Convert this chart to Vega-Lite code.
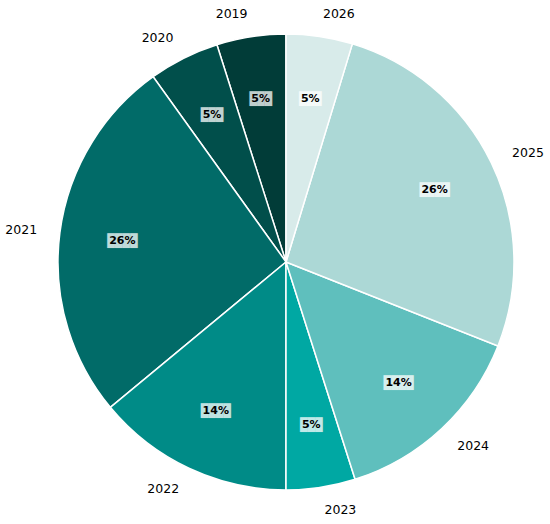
{
  "$schema": "https://vega.github.io/schema/vega-lite/v6.json",
  "width": 528,
  "height": 524,
  "autosize": "none",
  "padding": {"left": 22, "top": 0, "right": 0, "bottom": 0},
  "background": "white",
  "view": {"stroke": null},
  "data": {
    "values": [
      {"year": "2019", "value": 4.9, "label": "5%"},
      {"year": "2020", "value": 5.0, "label": "5%"},
      {"year": "2021", "value": 26.1, "label": "26%"},
      {"year": "2022", "value": 14.0, "label": "14%"},
      {"year": "2023", "value": 4.9, "label": "5%"},
      {"year": "2024", "value": 14.1, "label": "14%"},
      {"year": "2025", "value": 26.3, "label": "26%"},
      {"year": "2026", "value": 4.7, "label": "5%"}
    ]
  },
  "encoding": {
    "theta": {"field": "value", "type": "quantitative", "stack": true},
    "order": {"field": "year", "sort": "descending"},
    "color": {
      "field": "year",
      "type": "nominal",
      "legend": null,
      "scale": {
        "domain": ["2019", "2020", "2021", "2022", "2023", "2024", "2025", "2026"],
        "range": ["#013c38", "#014f4b", "#016b68", "#008b87", "#00a8a3", "#5fbfbd", "#acd8d6", "#d8ebea"]
      }
    }
  },
  "layer": [
    {
      "mark": {"type": "arc", "outerRadius": 228, "stroke": "white", "strokeWidth": 1.5}
    },
    {
      "mark": {"type": "text", "radius": 165, "fontSize": 12.5, "font": "DejaVu Sans Mono",
               "baseline": "middle", "align": "center", "opacity": 0.75},
      "encoding": {
        "text": {"condition": {"test": "length(datum.label) > 2", "value": "████"}, "value": "███"},
        "color": {"value": "white"}
      }
    },
    {
      "mark": {"type": "text", "radius": 165, "fontSize": 11, "fontWeight": "bold", "font": "DejaVu Sans",
               "baseline": "middle", "align": "center"},
      "encoding": {"text": {"field": "label"}, "color": {"value": "black"}}
    },
    {
      "mark": {"type": "text", "radius": 251, "fontSize": 12.5, "font": "DejaVu Sans",
               "baseline": "middle", "align": "left"},
      "encoding": {
        "text": {"condition": {"test": "datum.year >= '2023'", "field": "year"}, "value": ""},
        "color": {"value": "black"}
      }
    },
    {
      "mark": {"type": "text", "radius": 251, "fontSize": 12.5, "font": "DejaVu Sans",
               "baseline": "middle", "align": "right"},
      "encoding": {
        "text": {"condition": {"test": "datum.year < '2023'", "field": "year"}, "value": ""},
        "color": {"value": "black"}
      }
    }
  ]
}
